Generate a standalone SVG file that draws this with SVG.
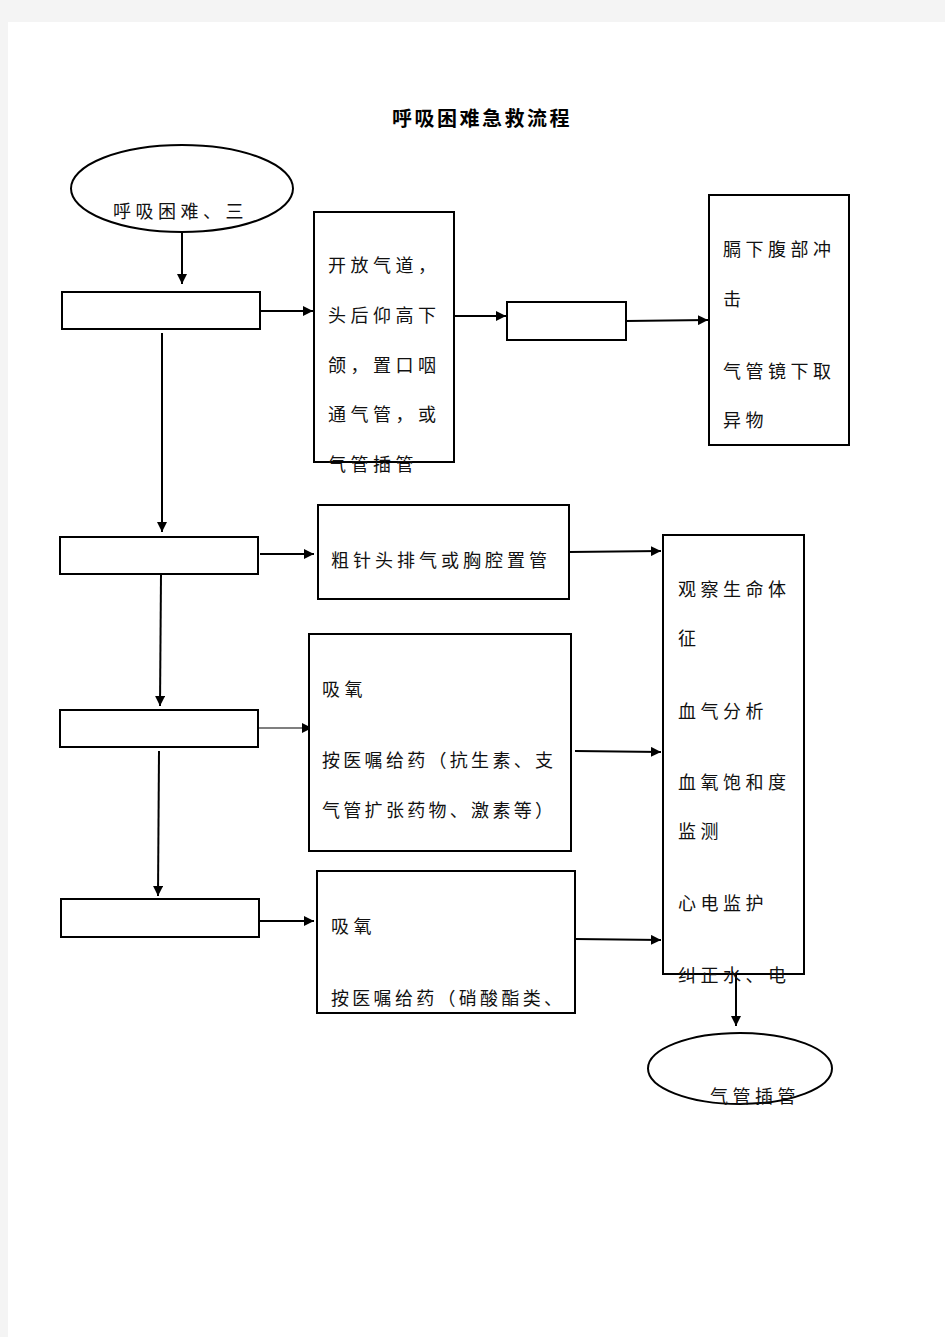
<svg xmlns="http://www.w3.org/2000/svg" width="945" height="1337" viewBox="0 0 945 1337">
<style>
.box{fill:#fff;stroke:#000;stroke-width:2}
.ell{fill:#fff;stroke:#000;stroke-width:2}
.t{font-family:"Noto Sans CJK SC","Noto Sans CJK JP",sans-serif;font-size:18px;fill:#111;letter-spacing:4.5px}
.title{font-family:"Noto Sans CJK SC",sans-serif;font-size:20px;font-weight:bold;fill:#000;letter-spacing:2.5px}
.c{fill:none;stroke:#000;stroke-width:2}
.thin{fill:none;stroke:#000;stroke-width:1.2}
</style>
<defs>
<marker id="ah" markerUnits="userSpaceOnUse" markerWidth="12" markerHeight="10" refX="10" refY="5" orient="auto">
<path d="M0,0 L10,5 L0,10 Z" fill="#000"/>
</marker>
</defs>
<rect x="0" y="0" width="945" height="1337" fill="#f4f4f4"/>
<rect x="8" y="22" width="937" height="1315" fill="#fff"/>
<text class="title" x="392" y="126">呼吸困难急救流程</text>

<g id="connectors">
<line class="c" x1="182" y1="232" x2="182" y2="284" marker-end="url(#ah)"/>
<line class="c" x1="260" y1="311" x2="313" y2="311" marker-end="url(#ah)"/>
<line class="c" x1="454" y1="316" x2="506" y2="316" marker-end="url(#ah)"/>
<line class="c" x1="626" y1="321" x2="708" y2="320" marker-end="url(#ah)"/>
<line class="c" x1="162" y1="333" x2="162" y2="532" marker-end="url(#ah)"/>
<line class="c" x1="260" y1="554" x2="314" y2="554" marker-end="url(#ah)"/>
<line class="c" x1="569" y1="552" x2="661" y2="551" marker-end="url(#ah)"/>
<line class="c" x1="161" y1="574" x2="160" y2="706" marker-end="url(#ah)"/>
<line class="thin" x1="258" y1="728" x2="312" y2="728" marker-end="url(#ah)"/>
<line class="c" x1="575" y1="751" x2="661" y2="752" marker-end="url(#ah)"/>
<line class="c" x1="159" y1="751" x2="158" y2="896" marker-end="url(#ah)"/>
<line class="c" x1="259" y1="921" x2="314" y2="921" marker-end="url(#ah)"/>
<line class="c" x1="575" y1="939" x2="661" y2="940" marker-end="url(#ah)"/>
<line class="c" x1="736" y1="974" x2="736" y2="1026" marker-end="url(#ah)"/>
</g>

<g id="n_start">
<ellipse class="ell" cx="182" cy="188.5" rx="111" ry="43.5"/>
<text class="t" x="113" y="218">呼吸困难、三</text>
</g>
<g id="n_a"><rect class="box" x="62" y="292" width="198" height="37"/></g>
<g id="n_b">
<rect class="box" x="314" y="212" width="140" height="250"/>
<text class="t" x="328" y="272">开放气道，</text>
<text class="t" x="328" y="322">头后仰高下</text>
<text class="t" x="328" y="372">颌，置口咽</text>
<text class="t" x="328" y="421">通气管，或</text>
<text class="t" x="328" y="471">气管插管</text>
</g>
<g id="n_c"><rect class="box" x="507" y="302" width="119" height="38"/></g>
<g id="n_d">
<rect class="box" x="709" y="195" width="140" height="250"/>
<text class="t" x="723" y="256">膈下腹部冲</text>
<text class="t" x="723" y="306">击</text>
<text class="t" x="723" y="378">气管镜下取</text>
<text class="t" x="723" y="427">异物</text>
</g>
<g id="n_e"><rect class="box" x="60" y="537" width="198" height="37"/></g>
<g id="n_f">
<rect class="box" x="318" y="505" width="251" height="94"/>
<text class="t" x="331" y="567" style="letter-spacing:4px">粗针头排气或胸腔置管</text>
</g>
<g id="n_g">
<rect class="box" x="663" y="535" width="141" height="439"/>
<text class="t" x="678" y="596">观察生命体</text>
<text class="t" x="678" y="645">征</text>
<text class="t" x="678" y="718">血气分析</text>
<text class="t" x="678" y="789">血氧饱和度</text>
<text class="t" x="678" y="838">监测</text>
<text class="t" x="678" y="910">心电监护</text>
<text class="t" x="678" y="982">纠正水、电</text>
</g>
<g id="n_h"><rect class="box" x="60" y="710" width="198" height="37"/></g>
<g id="n_i">
<rect class="box" x="309" y="634" width="262" height="217"/>
<text class="t" x="322" y="696">吸氧</text>
<text class="t" x="322" y="767" style="letter-spacing:3.3px">按医嘱给药（抗生素、支</text>
<text class="t" x="322" y="817" style="letter-spacing:3.3px">气管扩张药物、激素等）</text>
</g>
<g id="n_j"><rect class="box" x="61" y="899" width="198" height="38"/></g>
<g id="n_k">
<rect class="box" x="317" y="871" width="258" height="142"/>
<text class="t" x="331" y="933">吸氧</text>
<text class="t" x="331" y="1005" style="letter-spacing:3.3px">按医嘱给药（硝酸酯类、</text>
</g>
<g id="n_end">
<ellipse class="ell" cx="740" cy="1068.5" rx="92" ry="35.5"/>
<text class="t" x="710" y="1103">气管插管</text>
</g>
</svg>
